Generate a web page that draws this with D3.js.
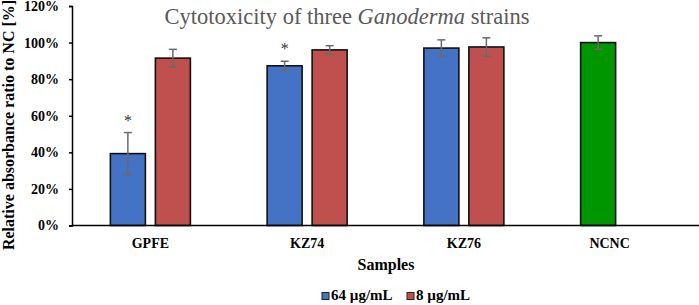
<!DOCTYPE html>
<html lang="en">
<head>
<meta charset="UTF-8">
<title>Cytotoxicity of three Ganoderma strains</title>
<script src="https://d3js.org/d3.v7.min.js"></script>
<style>
  body { margin: 0; background: #fff; }
  svg { display: block; font-family: "Liberation Serif", "Times New Roman", serif; }
  .tick-lbl { font-size: 14px; font-weight: bold; fill: #000; font-family: "Liberation Serif", serif; }
</style>
</head>
<body>
<svg width="699" height="305"></svg>
<script>
// data
const categories = ["GPFE", "KZ74", "KZ76", "NCNC"];
const seriesNames = ["64 µg/mL", "8 µg/mL"];
const values64 = [39.3, 87.3, 97.0, 100.0];
const values8 = [91.5, 96.0, 97.6, null];
const errors64 = [11.5, 2.5, 4.5, 3.7];
const errors8 = [4.8, 2.3, 5.0, null];
const marks = ["*", "*", "", ""];
const yTicks = [0, 20, 40, 60, 80, 100, 120];

const colors = { "64 µg/mL": "#4472C4", "8 µg/mL": "#C0504D", control: "#009600" };

const svg = d3.select("svg");
const plotL = 72, plotR = 699, plotT = 6, plotB = 225.5;

const x = d3.scaleBand().domain(categories).range([plotL, plotR]);
const x1 = d3.scaleBand().domain(seriesNames).range([-40, 40]).paddingInner(2 / 9);
const y = d3.scaleLinear().domain([0, 120]).range([plotB, plotT]);

// flatten to bar records
const bars = [];
categories.forEach((c, i) => {
  bars.push({ cat: c, s: seriesNames[0], v: values64[i], e: errors64[i], mark: marks[i] });
  if (values8[i] != null) bars.push({ cat: c, s: seriesNames[1], v: values8[i], e: errors8[i], mark: "" });
});

// y axis
const yAxis = svg.append("g")
  .attr("transform", `translate(${plotL},0)`)
  .call(d3.axisLeft(y).tickValues(yTicks).tickFormat(d => d + "%").tickSize(3).tickPadding(10));
yAxis.attr("font-family", null).attr("font-size", null);
yAxis.select(".domain").attr("stroke", "#000").attr("stroke-width", 1.5);
yAxis.selectAll(".tick line").attr("stroke", "#000").attr("stroke-width", 1.5);
yAxis.selectAll(".tick text").attr("class", "tick-lbl");

// bars
const g = svg.append("g");
g.selectAll("rect")
  .data(bars)
  .enter().append("rect")
  .attr("x", d => x(d.cat) + x.bandwidth() / 2 + x1(d.s))
  .attr("y", d => y(d.v))
  .attr("width", x1.bandwidth())
  .attr("height", d => y(0) - y(d.v))
  .attr("fill", d => d.cat === "NCNC" ? colors.control : colors[d.s])
  .attr("stroke", "#111")
  .attr("stroke-width", 1.6);

// error bars
const cx = d => x(d.cat) + x.bandwidth() / 2 + x1(d.s) + x1.bandwidth() / 2;
const eb = g.selectAll(".err").data(bars).enter().append("g").attr("class", "err")
  .attr("stroke", "#6a6a6a").attr("stroke-width", 1.5);
eb.append("line").attr("x1", cx).attr("x2", cx)
  .attr("y1", d => y(d.v + d.e)).attr("y2", d => y(d.v - d.e));
eb.append("line").attr("x1", d => cx(d) - 4).attr("x2", d => cx(d) + 4)
  .attr("y1", d => y(d.v + d.e)).attr("y2", d => y(d.v + d.e));
eb.append("line").attr("x1", d => cx(d) - 4).attr("x2", d => cx(d) + 4)
  .attr("y1", d => y(d.v - d.e)).attr("y2", d => y(d.v - d.e));

// significance marks
g.selectAll(".mark").data(bars.filter(d => d.mark)).enter().append("text")
  .attr("x", cx)
  .attr("y", d => y(d.v + d.e) - 7)
  .attr("text-anchor", "middle")
  .style("font-size", "16px")
  .style("fill", "#333")
  .text(d => d.mark);

// x axis
svg.append("line")
  .attr("x1", plotL).attr("x2", plotR)
  .attr("y1", y(0)).attr("y2", y(0))
  .attr("stroke", "#000").attr("stroke-width", 1.5);
svg.append("g").selectAll("text")
  .data(categories).enter().append("text")
  .attr("class", "tick-lbl")
  .attr("x", d => x(d) + x.bandwidth() / 2 + (d === "NCNC" ? -11 : 0))
  .attr("y", 248)
  .attr("text-anchor", "middle")
  .text(d => d);

// axis titles
svg.append("text")
  .attr("x", 386).attr("y", 270)
  .attr("text-anchor", "middle")
  .style("font-size", "16px").style("font-weight", "bold")
  .text("Samples");
svg.append("text")
  .attr("transform", "translate(14,125) rotate(-90)")
  .attr("text-anchor", "middle")
  .style("font-size", "16px").style("font-weight", "bold")
  .text("Relative absorbance ratio to NC [%]");

// title
const title = svg.append("text")
  .attr("x", 347).attr("y", 24)
  .attr("text-anchor", "middle")
  .style("font-size", "22.5px").style("fill", "#595959");
title.append("tspan").text("Cytotoxicity of three ");
title.append("tspan").style("font-style", "italic").text("Ganoderma");
title.append("tspan").text(" strains");

// legend
const legend = svg.append("g");
const legX = [322, 407];
seriesNames.forEach((s, i) => {
  legend.append("rect")
    .attr("x", legX[i]).attr("y", 292.5)
    .attr("width", 7).attr("height", 7)
    .attr("fill", colors[s]).attr("stroke", "#222").attr("stroke-width", 1);
  legend.append("text")
    .attr("x", legX[i] + 9).attr("y", 300)
    .style("font-size", "15px").style("font-weight", "bold")
    .text(s);
});
</script>
</body>
</html>
